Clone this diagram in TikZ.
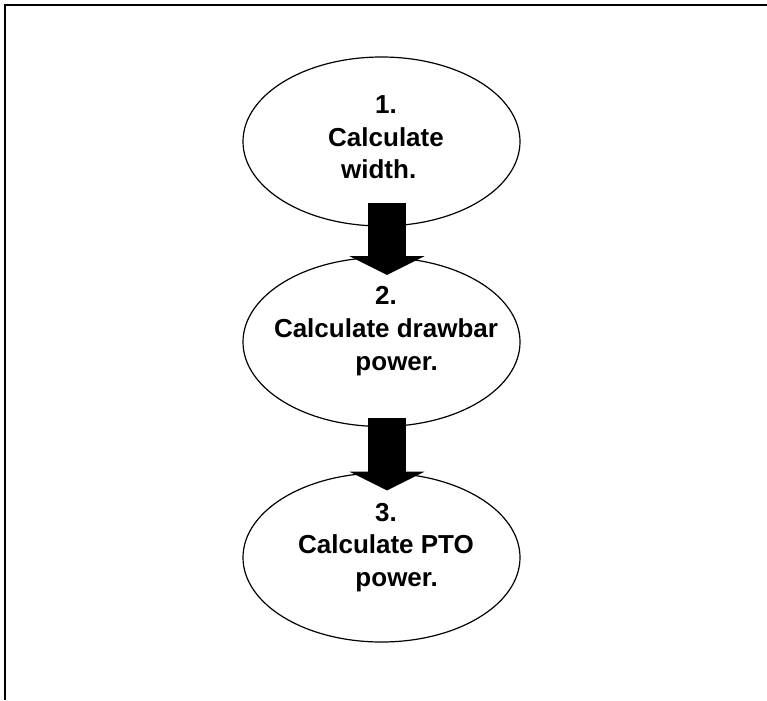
\documentclass[tikz,border=0pt]{standalone}
\usepackage{fontspec}
\setmainfont{Liberation Sans}
\usetikzlibrary{arrows.meta, positioning, shapes.geometric, calc}

\begin{document}
\begin{tikzpicture}[
    x=0.75pt, y=-0.75pt,
    frameline/.style={line width=1.2pt, draw=black},
    stage/.style={ellipse, draw=black, line width=0.9pt, minimum width=207.75pt, minimum height=126.75pt, inner sep=0},
    stagetext/.style={font=\fontsize{19.5}{24.5}\selectfont\bfseries, align=center, inner sep=0},
    flow/.style={line width=28.5pt, -{Triangle[length=14pt, width=55.5pt]}}
]
    \useasboundingbox (0,0) rectangle (767,700);

    % =========================================================
    % FRAME (top and left edges in view)
    % =========================================================
    \draw[frameline] (5,700) -- (5,5) -- (767,5);

    % =========================================================
    % STAGES
    % =========================================================
    \node[stage] (S1) at (381.5,141.5) {};
    \node[stage] (S2) at (381.5,342) {};
    \node[stage] (S3) at (381.5,557.5) {};

    % Stage texts
    \node[stagetext] (T1) at ($(S1.center)+(4.5,-4)$) {1.\\Calculate\\width.\hspace*{11pt}};
    \node[stagetext] (T2) at ($(S2.center)+(4.5,-11)$) {2.\\Calculate drawbar\\\hspace*{16pt}power.};
    \node[stagetext] (T3) at ($(S3.center)+(4.5,-10)$) {3.\\Calculate PTO\\\hspace*{16pt}power.};

    % =========================================================
    % BLOCK ARROWS
    % =========================================================
    \draw[flow] ($(S1.south)+(5.5,-24)$) -- ($(S2.north)+(5.5,18)$);
    \draw[flow] ($(S2.south)+(5.5,-9)$) -- ($(S3.north)+(5.5,18)$);

\end{tikzpicture}
\end{document}
